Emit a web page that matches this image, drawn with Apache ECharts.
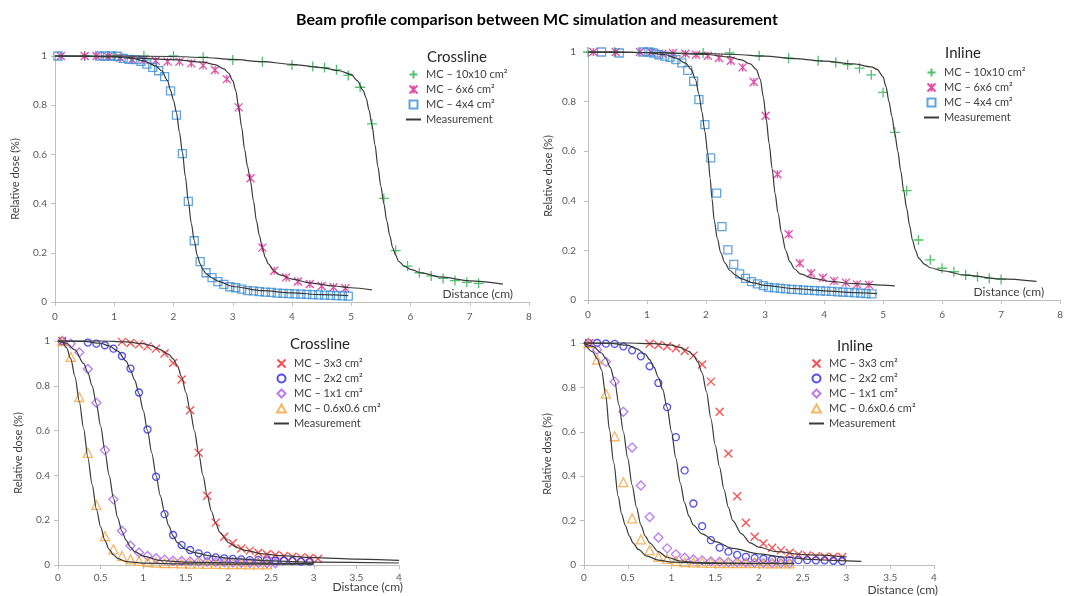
<!DOCTYPE html>
<html>
<head>
<meta charset="utf-8">
<script src="https://cdn.jsdelivr.net/npm/echarts@6/dist/echarts.min.js"></script>
<style>
  html, body { margin: 0; padding: 0; background: #fff; }
  #chart { width: 1066px; height: 596px; }
</style>
</head>
<body>
<div id="chart"></div>
<script>
// 剂量分布对比 - MC模拟 vs 测量
var dom = document.getElementById("chart")
var myChart = echarts.init(dom)

// Crossline 大野 (10x10, 6x6, 4x4)
var clMc10 = [[0.5,1.0],[1.0,1.0],[1.5,1.0],[2.0,1.0],[2.5,0.995],[3.0,0.984],[3.5,0.977],[4.0,0.963],[4.35,0.957],[4.55,0.953],[4.75,0.944],[4.95,0.921],[5.15,0.873],[5.35,0.724],[5.55,0.421],[5.75,0.209],[5.95,0.146],[6.15,0.119],[6.35,0.106],[6.55,0.096],[6.75,0.087],[6.95,0.080],[7.15,0.076]]
var clMc6 = [[0.1,1.0],[0.5,1.0],[0.7,1.0],[0.9,0.997],[1.1,0.993],[1.3,0.986],[1.5,0.984],[1.7,0.981],[1.9,0.977],[2.1,0.977],[2.3,0.970],[2.5,0.962],[2.7,0.943],[2.9,0.906],[3.1,0.791],[3.3,0.503],[3.5,0.221],[3.7,0.127],[3.9,0.100],[4.1,0.083],[4.3,0.073],[4.5,0.065],[4.7,0.060],[4.9,0.056]]
var clMc4 = [[0.05,1.0],[0.75,1.0],[0.85,1.0],[0.95,1.0],[1.05,0.999],[1.15,0.99],[1.25,0.986],[1.35,0.985],[1.45,0.978],[1.55,0.967],[1.65,0.954],[1.75,0.940],[1.85,0.916],[1.95,0.858],[2.05,0.760],[2.15,0.603],[2.25,0.409],[2.35,0.249],[2.45,0.164],[2.55,0.119],[2.65,0.099],[2.75,0.083],[2.85,0.072],[2.95,0.062],[3.05,0.058],[3.15,0.052],[3.25,0.046],[3.35,0.045],[3.45,0.042],[3.55,0.040],[3.65,0.039],[3.75,0.036],[3.85,0.035],[3.95,0.034],[4.05,0.033],[4.15,0.032],[4.25,0.031],[4.35,0.030],[4.45,0.029],[4.55,0.028],[4.65,0.027],[4.75,0.026],[4.85,0.025],[4.95,0.024]]
var clMeas10 = [[0,1],[1,1],[2,0.998],[2.5,0.994],[3,0.986],[3.5,0.977],[4,0.966],[4.5,0.953],[4.8,0.94],[5.0,0.925],[5.1,0.9],[5.2,0.86],[5.25,0.83],[5.3,0.78],[5.35,0.72],[5.4,0.64],[5.45,0.55],[5.5,0.47],[5.55,0.4],[5.6,0.33],[5.65,0.27],[5.7,0.22],[5.75,0.19],[5.8,0.165],[5.9,0.145],[6.0,0.133],[6.2,0.117],[6.5,0.102],[7.0,0.086],[7.56,0.073]]
var clMeas6 = [[0,1],[1.0,0.998],[1.5,0.99],[2.0,0.985],[2.5,0.975],[2.7,0.965],[2.85,0.948],[2.93,0.93],[3.0,0.9],[3.05,0.86],[3.1,0.79],[3.15,0.71],[3.2,0.62],[3.25,0.55],[3.3,0.49],[3.35,0.41],[3.4,0.33],[3.45,0.27],[3.5,0.22],[3.55,0.18],[3.6,0.155],[3.7,0.125],[3.8,0.11],[4.0,0.093],[4.3,0.078],[4.7,0.065],[5.0,0.058],[5.35,0.049]]
var clMeas4 = [[0,1],[0.5,0.999],[1.0,0.996],[1.3,0.99],[1.5,0.98],[1.7,0.96],[1.8,0.94],[1.9,0.9],[1.95,0.86],[2.0,0.82],[2.05,0.77],[2.1,0.69],[2.15,0.61],[2.2,0.51],[2.25,0.41],[2.3,0.32],[2.35,0.25],[2.4,0.19],[2.45,0.155],[2.5,0.13],[2.55,0.115],[2.65,0.098],[2.75,0.085],[3.0,0.063],[3.5,0.046],[4.0,0.037],[4.5,0.03],[4.95,0.026]]

// Inline 大野
var ilMc10 = [[0,1.0],[0.45,1.0],[1.95,0.996],[2.4,0.996],[2.9,0.985],[3.4,0.976],[3.9,0.965],[4.2,0.958],[4.4,0.949],[4.6,0.935],[4.8,0.908],[5.0,0.837],[5.2,0.676],[5.4,0.441],[5.6,0.242],[5.8,0.162],[6.0,0.128],[6.2,0.114],[6.4,0.101],[6.6,0.094],[6.8,0.087],[7.0,0.083]]
var ilMc6 = [[0.09,1.0],[0.47,1.0],[0.88,1.0],[1.07,0.999],[1.26,0.993],[1.44,0.996],[1.65,0.993],[1.83,0.989],[2.03,0.985],[2.22,0.976],[2.42,0.965],[2.62,0.938],[2.81,0.879],[3.01,0.743],[3.21,0.507],[3.4,0.265],[3.59,0.148],[3.78,0.108],[3.98,0.09],[4.17,0.077],[4.37,0.07],[4.56,0.063],[4.76,0.061]]
var ilMc4 = [[0.23,1.0],[0.53,0.996],[0.93,1.0],[1.03,1.0],[1.11,0.996],[1.2,0.989],[1.3,0.983],[1.39,0.978],[1.49,0.969],[1.59,0.956],[1.69,0.926],[1.79,0.882],[1.88,0.808],[1.98,0.707],[2.08,0.573],[2.18,0.431],[2.27,0.296],[2.37,0.202],[2.47,0.144],[2.57,0.105],[2.67,0.087],[2.77,0.074],[2.87,0.065],[2.97,0.058],[3.06,0.051],[3.16,0.049],[3.26,0.047],[3.35,0.045],[3.45,0.043],[3.55,0.042],[3.65,0.040],[3.74,0.039],[3.84,0.038],[3.94,0.037],[4.03,0.036],[4.13,0.035],[4.23,0.033],[4.32,0.032],[4.42,0.031],[4.52,0.029],[4.62,0.028],[4.71,0.026],[4.81,0.025]]
var ilMeas10 = [[0,1],[1,0.998],[2,0.994],[2.5,0.99],[3,0.983],[3.5,0.973],[4,0.963],[4.5,0.952],[4.8,0.94],[4.9,0.93],[5.0,0.9],[5.05,0.86],[5.1,0.8],[5.15,0.74],[5.2,0.67],[5.25,0.6],[5.3,0.52],[5.35,0.44],[5.4,0.37],[5.45,0.3],[5.5,0.24],[5.55,0.2],[5.6,0.17],[5.7,0.145],[5.8,0.13],[6.0,0.118],[6.4,0.1],[7.0,0.085],[7.6,0.075]]
var ilMeas6 = [[0,1],[1,0.998],[2,0.99],[2.4,0.98],[2.6,0.968],[2.75,0.952],[2.85,0.93],[2.92,0.89],[2.97,0.82],[3.02,0.73],[3.07,0.63],[3.12,0.53],[3.17,0.43],[3.22,0.35],[3.28,0.27],[3.35,0.2],[3.42,0.155],[3.5,0.125],[3.6,0.105],[3.8,0.088],[4.1,0.075],[4.5,0.066],[5.0,0.06],[5.2,0.057]]
var ilMeas4 = [[0,1],[0.5,1],[1.0,0.997],[1.3,0.99],[1.5,0.975],[1.65,0.955],[1.75,0.93],[1.82,0.89],[1.88,0.83],[1.93,0.76],[1.98,0.68],[2.03,0.59],[2.07,0.49],[2.1,0.41],[2.14,0.32],[2.19,0.25],[2.25,0.19],[2.32,0.15],[2.4,0.12],[2.5,0.1],[2.6,0.085],[2.8,0.069],[3.0,0.059],[3.5,0.046],[4.0,0.037],[4.5,0.03],[4.9,0.026]]

// Crossline 小野 (3x3, 2x2, 1x1, 0.6x0.6)
var csMc3 = [[0.05,1.0],[0.75,0.996],[0.85,0.991],[0.95,0.985],[1.05,0.976],[1.15,0.966],[1.25,0.944],[1.35,0.902],[1.45,0.828],[1.55,0.691],[1.65,0.501],[1.75,0.309],[1.85,0.189],[1.95,0.126],[2.05,0.097],[2.15,0.074],[2.25,0.064],[2.35,0.055],[2.45,0.048],[2.55,0.045],[2.65,0.04],[2.75,0.037],[2.85,0.034],[2.95,0.031],[3.05,0.028]]
var csMc2 = [[0.05,1.0],[0.35,0.993],[0.45,0.988],[0.55,0.981],[0.65,0.966],[0.75,0.933],[0.85,0.877],[0.95,0.77],[1.05,0.605],[1.15,0.394],[1.25,0.227],[1.35,0.134],[1.45,0.089],[1.55,0.067],[1.65,0.052],[1.75,0.042],[1.85,0.034],[1.95,0.03],[2.05,0.027],[2.15,0.025],[2.25,0.022],[2.35,0.022],[2.45,0.021],[2.55,0.019],[2.65,0.019],[2.75,0.018],[2.85,0.015],[2.95,0.015]]
var csMc1 = [[0.05,1.0],[0.15,0.988],[0.25,0.949],[0.35,0.875],[0.45,0.724],[0.55,0.513],[0.65,0.293],[0.75,0.153],[0.85,0.086],[0.95,0.056],[1.05,0.04],[1.15,0.03],[1.25,0.024],[1.35,0.019],[1.45,0.018],[1.55,0.016],[1.65,0.015],[1.75,0.014],[1.85,0.013],[1.95,0.012],[2.05,0.011],[2.15,0.01],[2.25,0.009],[2.35,0.009],[2.45,0.008],[2.55,0.008]]
var csMc06 = [[0.05,1.0],[0.15,0.929],[0.25,0.75],[0.35,0.501],[0.45,0.268],[0.55,0.129],[0.65,0.07],[0.75,0.04],[0.85,0.025],[0.95,0.018],[1.05,0.013],[1.15,0.011],[1.25,0.009],[1.35,0.008],[1.45,0.007],[1.55,0.006],[1.65,0.006],[1.75,0.005],[1.85,0.005],[1.95,0.004],[2.05,0.004],[2.15,0.004],[2.25,0.003],[2.35,0.003],[2.45,0.003]]
var csMeas3 = [[0,1],[0.5,1],[0.8,0.996],[1.0,0.988],[1.1,0.978],[1.2,0.962],[1.3,0.94],[1.35,0.92],[1.4,0.89],[1.45,0.84],[1.5,0.77],[1.55,0.69],[1.6,0.6],[1.65,0.5],[1.7,0.4],[1.75,0.31],[1.8,0.24],[1.85,0.185],[1.9,0.145],[2.0,0.1],[2.1,0.078],[2.2,0.065],[2.4,0.05],[2.6,0.042],[3.0,0.033],[3.5,0.026],[4.0,0.021]]
var csMeas2 = [[0,1],[0.3,0.998],[0.5,0.99],[0.6,0.978],[0.7,0.955],[0.8,0.91],[0.85,0.87],[0.9,0.825],[0.95,0.765],[1.0,0.69],[1.05,0.6],[1.1,0.5],[1.15,0.4],[1.2,0.31],[1.25,0.235],[1.3,0.175],[1.35,0.13],[1.4,0.1],[1.5,0.07],[1.6,0.055],[1.8,0.04],[2.0,0.03],[2.5,0.018],[3.0,0.013],[4.0,0.009]]
var csMeas1 = [[0,1],[0.1,0.99],[0.2,0.96],[0.3,0.9],[0.35,0.86],[0.4,0.8],[0.45,0.72],[0.5,0.62],[0.55,0.51],[0.6,0.4],[0.65,0.3],[0.7,0.21],[0.75,0.15],[0.8,0.11],[0.85,0.08],[0.9,0.06],[1.0,0.04],[1.2,0.02],[1.5,0.013],[2.0,0.01],[2.5,0.008],[3.0,0.007]]
var csMeas06 = [[0,1],[0.05,0.995],[0.1,0.97],[0.15,0.92],[0.2,0.84],[0.25,0.73],[0.3,0.61],[0.35,0.48],[0.4,0.36],[0.45,0.25],[0.5,0.17],[0.55,0.11],[0.6,0.07],[0.65,0.045],[0.7,0.03],[0.8,0.015],[1.0,0.008],[1.5,0.005],[2.0,0.004],[3.0,0.004]]

// Inline 小野
var isMc3 = [[0.06,1.0],[0.75,0.997],[0.85,0.991],[0.95,0.985],[1.05,0.976],[1.15,0.964],[1.25,0.943],[1.35,0.903],[1.45,0.826],[1.55,0.69],[1.65,0.502],[1.75,0.31],[1.85,0.19],[1.95,0.127],[2.05,0.097],[2.15,0.078],[2.25,0.066],[2.35,0.055],[2.45,0.048],[2.55,0.043],[2.65,0.04],[2.75,0.037],[2.85,0.036],[2.95,0.036]]
var isMc2 = [[0.05,1.0],[0.15,1.0],[0.25,0.997],[0.35,0.996],[0.45,0.985],[0.55,0.967],[0.65,0.94],[0.75,0.895],[0.85,0.82],[0.95,0.711],[1.05,0.576],[1.15,0.426],[1.25,0.277],[1.35,0.175],[1.45,0.112],[1.55,0.078],[1.65,0.06],[1.75,0.046],[1.85,0.037],[1.95,0.031],[2.05,0.028],[2.15,0.025],[2.25,0.022],[2.35,0.022],[2.45,0.022],[2.55,0.022],[2.65,0.021],[2.75,0.021],[2.85,0.019],[2.95,0.018]]
var isMc1 = [[0.05,1.0],[0.15,0.97],[0.25,0.915],[0.35,0.826],[0.45,0.69],[0.55,0.529],[0.65,0.358],[0.75,0.216],[0.85,0.124],[0.95,0.075],[1.05,0.048],[1.15,0.033],[1.25,0.025],[1.35,0.021],[1.45,0.016],[1.55,0.015],[1.65,0.013],[1.75,0.012],[1.85,0.011],[1.95,0.01],[2.05,0.009],[2.15,0.008],[2.25,0.008],[2.35,0.007]]
var isMc06 = [[0.05,1.0],[0.15,0.925],[0.25,0.772],[0.35,0.58],[0.45,0.373],[0.55,0.21],[0.65,0.115],[0.75,0.067],[0.85,0.037],[0.95,0.028],[1.05,0.018],[1.15,0.013],[1.25,0.012],[1.35,0.011],[1.45,0.01],[1.55,0.009],[1.65,0.009],[1.75,0.008],[1.85,0.008],[1.95,0.008],[2.05,0.007],[2.15,0.007],[2.25,0.007],[2.35,0.007]]
var isMeas3 = [[0,1],[0.5,1],[0.8,0.997],[1.0,0.99],[1.1,0.98],[1.2,0.962],[1.25,0.945],[1.3,0.915],[1.35,0.865],[1.4,0.78],[1.45,0.66],[1.5,0.54],[1.55,0.44],[1.6,0.34],[1.65,0.26],[1.7,0.2],[1.8,0.14],[1.9,0.1],[2.0,0.08],[2.2,0.06],[2.5,0.047],[3.0,0.037]]
var isMeas2 = [[0,1],[0.3,0.998],[0.5,0.99],[0.6,0.975],[0.7,0.95],[0.75,0.925],[0.8,0.89],[0.85,0.845],[0.9,0.79],[0.95,0.71],[1.0,0.6],[1.05,0.48],[1.1,0.37],[1.15,0.28],[1.2,0.22],[1.25,0.18],[1.35,0.14],[1.5,0.105],[1.7,0.075],[2.0,0.05],[2.3,0.035],[2.6,0.025],[2.9,0.02],[3.17,0.016]]
var isMeas1 = [[0,1],[0.1,0.985],[0.2,0.955],[0.25,0.93],[0.3,0.89],[0.35,0.83],[0.4,0.72],[0.45,0.6],[0.5,0.48],[0.55,0.36],[0.6,0.26],[0.65,0.18],[0.7,0.13],[0.75,0.1],[0.85,0.06],[0.95,0.035],[1.1,0.018],[1.3,0.011],[1.7,0.008],[2.4,0.007]]
var isMeas06 = [[0,1],[0.1,0.96],[0.15,0.93],[0.2,0.88],[0.25,0.76],[0.29,0.61],[0.34,0.46],[0.39,0.31],[0.43,0.23],[0.47,0.18],[0.52,0.13],[0.56,0.1],[0.62,0.07],[0.72,0.04],[0.85,0.022],[1.0,0.013],[1.5,0.007],[2.0,0.006],[2.4,0.006]]

// 图例名称
var NAME10 = 'MC – 10x10 cm²'
var NAME6 = 'MC – 6x6 cm²'
var NAME4 = 'MC – 4x4 cm²'
var NAME3 = 'MC – 3x3 cm²'
var NAME2 = 'MC – 2x2 cm²'
var NAME1 = 'MC – 1x1 cm²'
var NAME06 = 'MC – 0.6x0.6 cm²'
var MEAS = 'Measurement'

var FONT = 'Lato, "Open Sans", sans-serif'
var AXIS_GRAY = '#bfbfbf'
var LABEL_GRAY = '#595959'

// 标记样式 (路径符号保持宽高比, 图例里也是正方形)
var markers = {
    plus: { symbol: 'path://M5,0L5,10M0,5L10,5', size: 10, color: '#27b04b', hollow: false },
    star: { symbol: 'path://M0,0L10,10M10,0L0,10M5,0L5,10', size: 8, color: '#dd2290', hollow: false },
    square: { symbol: 'path://M0,0L10,0L10,10L0,10Z', size: 8, color: '#3b8ed6', hollow: true },
    cross: { symbol: 'path://M0,0L10,10M10,0L0,10', size: 8, color: '#ff1f1f', hollow: false },
    circle: { symbol: 'circle', size: 7, color: '#2424f2', hollow: true },
    diamond: { symbol: 'path://M5,0L10,5L5,10L0,5Z', size: 9, color: '#a65cf2', hollow: true },
    triangle: { symbol: 'path://M5,0L10,9L0,9Z', size: 9, color: '#f7a23a', hollow: true }
}

// 网格位置
var grids = [
    { left: 55, top: 56, width: 474, height: 246 },
    { left: 588, top: 52, width: 475, height: 248 },
    { left: 58, top: 341, width: 341, height: 224 },
    { left: 584, top: 343, width: 350, height: 223 }
]

function mcSeries(name, data, idx, mk) {
    return {
        type: 'scatter',
        name: name,
        xAxisIndex: idx,
        yAxisIndex: idx,
        symbol: mk.symbol,
        symbolSize: mk.size,
        itemStyle: {
            color: mk.hollow ? 'rgba(255,255,255,0)' : mk.color,
            borderColor: mk.color,
            borderWidth: 1.3
        },
        data: data
    }
}

function measSeries(data, idx) {
    return {
        type: 'line',
        name: MEAS,
        xAxisIndex: idx,
        yAxisIndex: idx,
        symbol: 'line',   // 图例只画一条线
        showSymbol: false,
        smooth: 0.3,
        smoothMonotone: 'x',
        clip: false,
        lineStyle: { color: '#3a3a3a', width: 1.2 },
        itemStyle: { color: '#3a3a3a' },
        data: data
    }
}

function xAxisOf(idx, max, interval, top) {
    return {
        type: 'value',
        gridIndex: idx,
        min: 0,
        max: max,
        interval: interval,
        name: 'Distance (cm)',
        nameLocation: 'end',
        nameGap: top ? -16 : 4,
        nameMoveOverlap: false,
        nameTextStyle: top
            ? { align: 'right', verticalAlign: 'bottom', fontSize: 12, color: '#404040', fontFamily: FONT, padding: [0, 0, 2, 0] }
            : { align: 'right', verticalAlign: 'top', fontSize: 12, color: '#404040', fontFamily: FONT, padding: [idx === 2 ? 16 : 19, 0, 0, 0] },
        axisLine: { onZero: false, lineStyle: { color: AXIS_GRAY } },
        axisTick: { show: true, length: 4, lineStyle: { color: AXIS_GRAY } },
        axisLabel: { color: LABEL_GRAY, fontSize: 10, fontFamily: FONT, margin: top ? 10 : 8 },
        splitLine: { show: false }
    }
}

function yAxisOf(idx) {
    return {
        type: 'value',
        gridIndex: idx,
        min: 0,
        max: 1,
        interval: 0.2,
        name: 'Relative dose (%)',
        nameLocation: 'middle',
        nameGap: idx === 3 ? 31 : 34,
        nameTextStyle: { fontSize: 11, color: '#404040', fontFamily: FONT },
        axisLine: { show: true, lineStyle: { color: AXIS_GRAY } },
        axisTick: { show: true, length: 4, lineStyle: { color: AXIS_GRAY } },
        axisLabel: { color: LABEL_GRAY, fontSize: 10, fontFamily: FONT, margin: idx === 1 ? 12 : 8 },
        splitLine: { show: false }
    }
}

function legendOf(left, top, names) {
    return {
        orient: 'vertical',
        left: left,
        top: top,
        padding: 0,
        itemWidth: 15,
        itemHeight: 8,
        itemGap: 2,
        data: names,
        textStyle: { fontSize: 11, color: '#404040', fontFamily: FONT, lineHeight: 13 }
    }
}

function panelTitle(text, x, y) {
    return {
        type: 'text',
        x: x,
        y: y,
        style: {
            text: text,
            fill: '#262626',
            font: '15px ' + FONT,
            textAlign: 'center',
            textVerticalAlign: 'middle'
        }
    }
}

function getOption() {
    return {
        animation: false,
        grid: grids,
        xAxis: [xAxisOf(0, 8, 1, true), xAxisOf(1, 8, 1, true), xAxisOf(2, 4, 0.5, false), xAxisOf(3, 4, 0.5, false)],
        yAxis: [yAxisOf(0), yAxisOf(1), yAxisOf(2), yAxisOf(3)],
        legend: [
            legendOf(405, 68, [NAME10, NAME6, NAME4, MEAS]),
            legendOf(923, 66, [NAME10, NAME6, NAME4, MEAS]),
            legendOf(273, 357, [NAME3, NAME2, NAME1, NAME06, MEAS]),
            legendOf(808, 357, [NAME3, NAME2, NAME1, NAME06, MEAS])
        ],
        graphic: [
            {
                type: 'text',
                x: 537,
                y: 20,
                style: {
                    text: 'Beam profile comparison between MC simulation and measurement',
                    fill: '#000',
                    font: 'bold 16px ' + FONT,
                    textAlign: 'center',
                    textVerticalAlign: 'middle'
                }
            },
            panelTitle('Crossline', 457, 57),
            panelTitle('Inline', 963, 53),
            panelTitle('Crossline', 320, 344),
            panelTitle('Inline', 855, 346)
        ],
        series: [
            mcSeries(NAME10, clMc10, 0, markers.plus),
            mcSeries(NAME6, clMc6, 0, markers.star),
            mcSeries(NAME4, clMc4, 0, markers.square),
            measSeries(clMeas10, 0), measSeries(clMeas6, 0), measSeries(clMeas4, 0),

            mcSeries(NAME10, ilMc10, 1, markers.plus),
            mcSeries(NAME6, ilMc6, 1, markers.star),
            mcSeries(NAME4, ilMc4, 1, markers.square),
            measSeries(ilMeas10, 1), measSeries(ilMeas6, 1), measSeries(ilMeas4, 1),

            mcSeries(NAME3, csMc3, 2, markers.cross),
            mcSeries(NAME2, csMc2, 2, markers.circle),
            mcSeries(NAME1, csMc1, 2, markers.diamond),
            mcSeries(NAME06, csMc06, 2, markers.triangle),
            measSeries(csMeas3, 2), measSeries(csMeas2, 2), measSeries(csMeas1, 2), measSeries(csMeas06, 2),

            mcSeries(NAME3, isMc3, 3, markers.cross),
            mcSeries(NAME2, isMc2, 3, markers.circle),
            mcSeries(NAME1, isMc1, 3, markers.diamond),
            mcSeries(NAME06, isMc06, 3, markers.triangle),
            measSeries(isMeas3, 3), measSeries(isMeas2, 3), measSeries(isMeas1, 3), measSeries(isMeas06, 3)
        ]
    }
}

myChart.setOption(getOption())
</script>
</body>
</html>
